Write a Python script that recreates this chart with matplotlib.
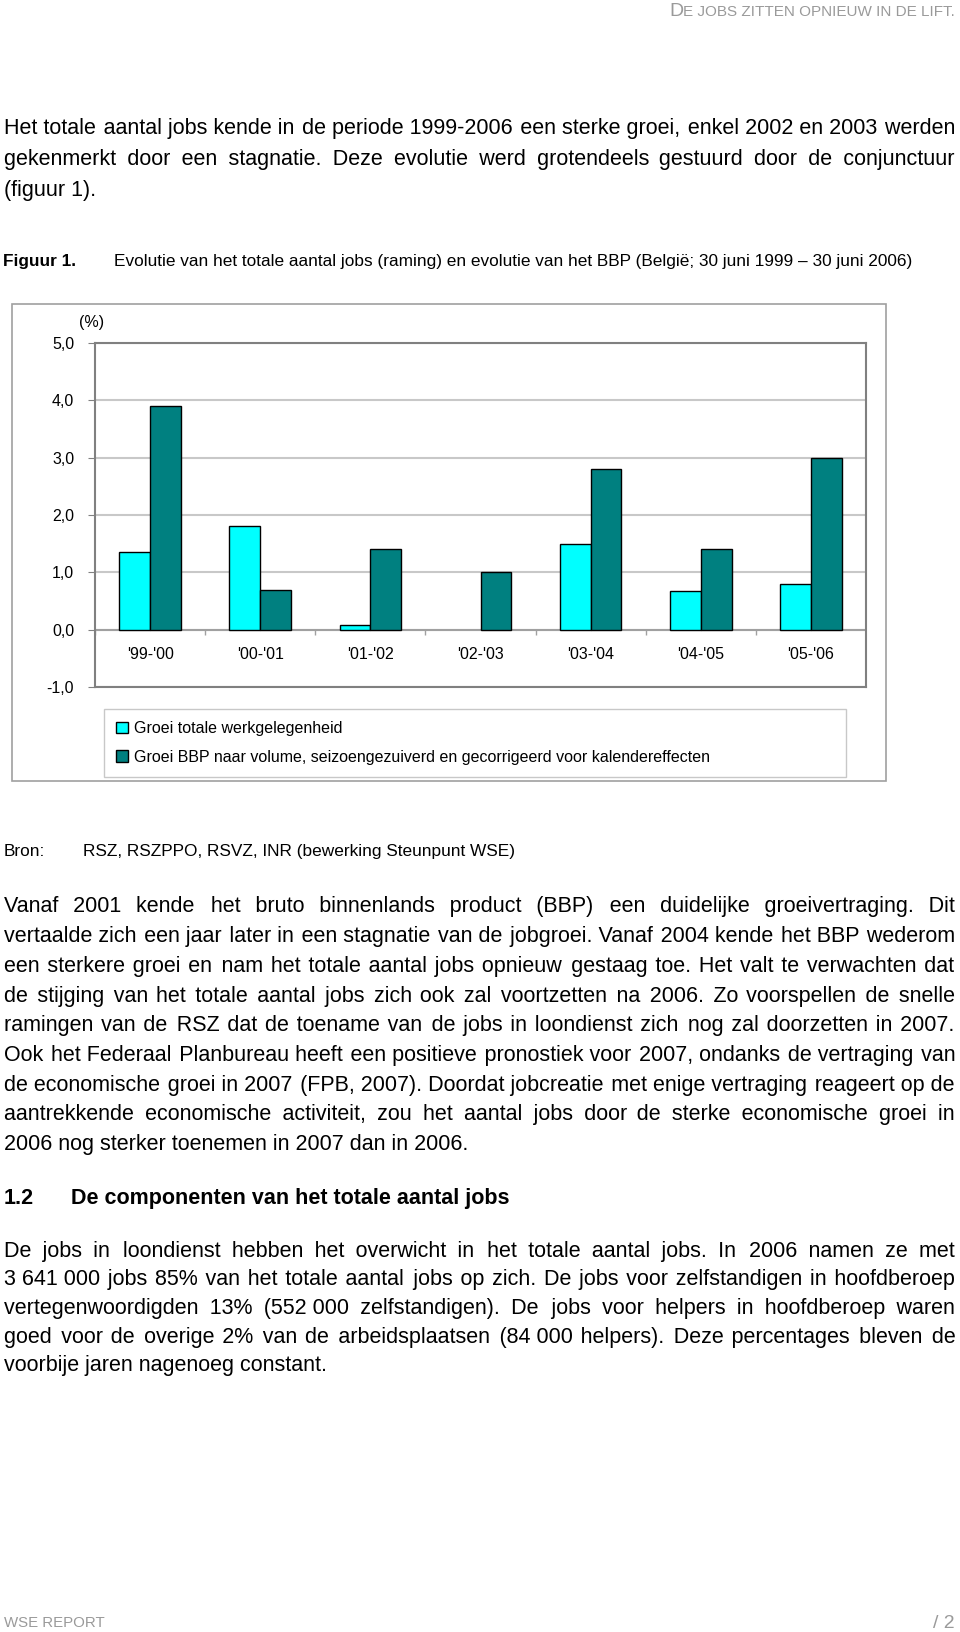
import numpy as np
import matplotlib
matplotlib.use('Agg')
import matplotlib.pyplot as plt
from matplotlib.patches import Patch, Rectangle
from matplotlib.ticker import FuncFormatter

# chart data
periods = ["'99-'00", "'00-'01", "'01-'02", "'02-'03", "'03-'04", "'04-'05", "'05-'06"]
jobs_growth = [1.35, 1.8, 0.08, 0.0, 1.5, 0.67, 0.8]
gdp_growth = [3.9, 0.7, 1.4, 1.0, 2.8, 1.4, 3.0]
y_ticks = [-1, 0, 1, 2, 3, 4, 5]
legend_labels = ["Groei totale werkgelegenheid",
                 "Groei BBP naar volume, seizoengezuiverd en gecorrigeerd voor kalendereffecten"]

# page text
para1 = ["Het totale aantal jobs kende in de periode 1999-2006 een sterke groei, enkel 2002 en 2003 werden",
         "gekenmerkt door een stagnatie. Deze evolutie werd grotendeels gestuurd door de conjunctuur",
         "(figuur 1)."]
para2 = ["Vanaf 2001 kende het bruto binnenlands product (BBP) een duidelijke groeivertraging. Dit",
         "vertaalde zich een jaar later in een stagnatie van de jobgroei. Vanaf 2004 kende het BBP wederom",
         "een sterkere groei en nam het totale aantal jobs opnieuw gestaag toe. Het valt te verwachten dat",
         "de stijging van het totale aantal jobs zich ook zal voortzetten na 2006. Zo voorspellen de snelle",
         "ramingen van de RSZ dat de toename van de jobs in loondienst zich nog zal doorzetten in 2007.",
         "Ook het Federaal Planbureau heeft een positieve pronostiek voor 2007, ondanks de vertraging van",
         "de economische groei in 2007 (FPB, 2007). Doordat jobcreatie met enige vertraging reageert op de",
         "aantrekkende economische activiteit, zou het aantal jobs door de sterke economische groei in",
         "2006 nog sterker toenemen in 2007 dan in 2006."]
para3 = ["De jobs in loondienst hebben het overwicht in het totale aantal jobs. In 2006 namen ze met",
         "3\u00a0641\u00a0000 jobs 85% van het totale aantal jobs op zich. De jobs voor zelfstandigen in hoofdberoep",
         "vertegenwoordigden 13% (552\u00a0000 zelfstandigen). De jobs voor helpers in hoofdberoep waren",
         "goed voor de overige 2% van de arbeidsplaatsen (84\u00a0000 helpers). Deze percentages bleven de",
         "voorbije jaren nagenoeg constant."]

plt.rcParams['font.family'] = ['Liberation Sans', 'DejaVu Sans']

W, H = 960, 1632
fig = plt.figure(figsize=(W / 100, H / 100), dpi=100)
renderer = fig.canvas.get_renderer()

BODY = 15.5
LEFT, RIGHT = 4, 955
HAIR = '\u200a'


def fx(x):
    return x / W


def fy(y):
    return 1 - y / H


def text_width(s, size):
    t = fig.text(0, 0, s, fontsize=size)
    wd = t.get_window_extent(renderer).width
    t.remove()
    return wd


def justify(line, size, width):
    # stretch the gaps with hair spaces so the line is one text object
    words = line.split(' ')
    natural = text_width(line, size)
    hw = (text_width('a' + HAIR * 40 + 'a', size) - text_width('aa', size)) / 40
    extra = (width - natural) / (len(words) - 1)
    out = words[0]
    done = 0
    for i, wd in enumerate(words[1:], start=1):
        k = int(round(extra * i / hw)) - done
        done += k
        out += ' ' + HAIR * max(k, 0) + wd
    return out


def put_para(lines, ys):
    for i, (line, y) in enumerate(zip(lines, ys)):
        if i < len(lines) - 1:
            line = justify(line, BODY, RIGHT - LEFT)
        fig.text(fx(LEFT), fy(y + 7), line, fontsize=BODY, va='baseline', ha='left')


# header in small caps
grey = '#9a9a9a'
small = fig.text(fx(955), fy(16), "E JOBS ZITTEN OPNIEUW IN DE LIFT.", fontsize=11, color=grey,
                 ha='right', va='baseline')
sw = small.get_window_extent(renderer).width
fig.text(fx(955 - sw), fy(16), "D", fontsize=14, color=grey, ha='right', va='baseline')

put_para(para1, [127, 158, 189])

# caption
fig.text(fx(3), fy(266), "Figuur 1.", fontsize=12.4, fontweight='bold', va='baseline')
fig.text(fx(114), fy(266),
         "Evolutie van het totale aantal jobs (raming) en evolutie van het BBP (België; 30 juni 1999 \u2013 30 juni 2006)",
         fontsize=12.4, va='baseline')

# chart frame
fig.add_artist(Rectangle((fx(12), fy(781)), fx(886 - 12), (781 - 304) / H, transform=fig.transFigure,
                         facecolor='none', edgecolor='#a0a0a0', lw=1.2))

ax = fig.add_axes([fx(95), fy(687), fx(866 - 95), (687 - 343) / H])
x = np.arange(len(periods))
w = 0.28
ax.bar(x - w / 2, jobs_growth, w, color='#00FFFF', edgecolor='black',
       linewidth=[0 if v == 0 else 1.0 for v in jobs_growth], zorder=3)
ax.bar(x + w / 2, gdp_growth, w, color='#008080', edgecolor='black', linewidth=1.0, zorder=3)

ax.set_xlim(-0.5, len(periods) - 0.5)
ax.set_ylim(min(y_ticks), max(y_ticks))
ax.set_yticks(y_ticks)
ax.yaxis.set_major_formatter(FuncFormatter(lambda v, p: f"{v:.1f}".replace('.', ',')))
ax.yaxis.grid(True, color='#c8c8c8', lw=1.5)
ax.set_axisbelow(True)
ax.set_xticks([])
ax.tick_params(axis='y', length=5, color='#808080', pad=10, labelsize=11.5)
for s in ax.spines.values():
    s.set_color('#808080')
    s.set_linewidth(1.5)

# category axis at zero with small ticks between groups
ax.axhline(0, color='#a0a0a0', lw=1.5, zorder=2)
ax.vlines(np.arange(len(periods) + 1) - 0.5, -0.09, 0, color='#a0a0a0', lw=1, zorder=2)
for i, p in enumerate(periods):
    ax.text(i, -0.44, p, ha='center', va='center', fontsize=11.5)

fig.text(fx(92), fy(323), "(%)", ha='center', va='center', fontsize=11.5)

handles = [Patch(facecolor='#00FFFF', edgecolor='black'), Patch(facecolor='#008080', edgecolor='black')]
fig.legend(handles, legend_labels, loc='upper left', mode='expand',
           bbox_to_anchor=(fx(104), fy(774), fx(846 - 104), (774 - 709) / H), borderaxespad=0,
           fontsize=11.5, frameon=True, fancybox=False, framealpha=1, edgecolor='#c8c8c8',
           handlelength=0.75, handleheight=0.7, handletextpad=0.4, borderpad=0.75, labelspacing=0.85)

# source
fig.text(fx(4), fy(856), "Bron:", fontsize=12.4, va='baseline')
fig.text(fx(83), fy(856), "RSZ, RSZPPO, RSVZ, INR (bewerking Steunpunt WSE)", fontsize=12.4, va='baseline')

put_para(para2, [905.5, 934.6, 964.5, 994.6, 1024, 1054, 1083.5, 1113, 1142.8])

fig.text(fx(4), fy(1204), "1.2", fontsize=BODY, fontweight='bold', va='baseline')
fig.text(fx(71), fy(1204), "De componenten van het totale aantal jobs", fontsize=BODY, fontweight='bold',
         va='baseline')

put_para(para3, [1250, 1278.5, 1307, 1335.5, 1364])

# footer
fig.text(fx(4), fy(1627), "WSE REPORT", fontsize=10.8, color=grey, va='baseline')
fig.text(fx(955), fy(1628), "/ 2", fontsize=14, color=grey, va='baseline', ha='right')

fig.savefig('out.png', dpi=100)
